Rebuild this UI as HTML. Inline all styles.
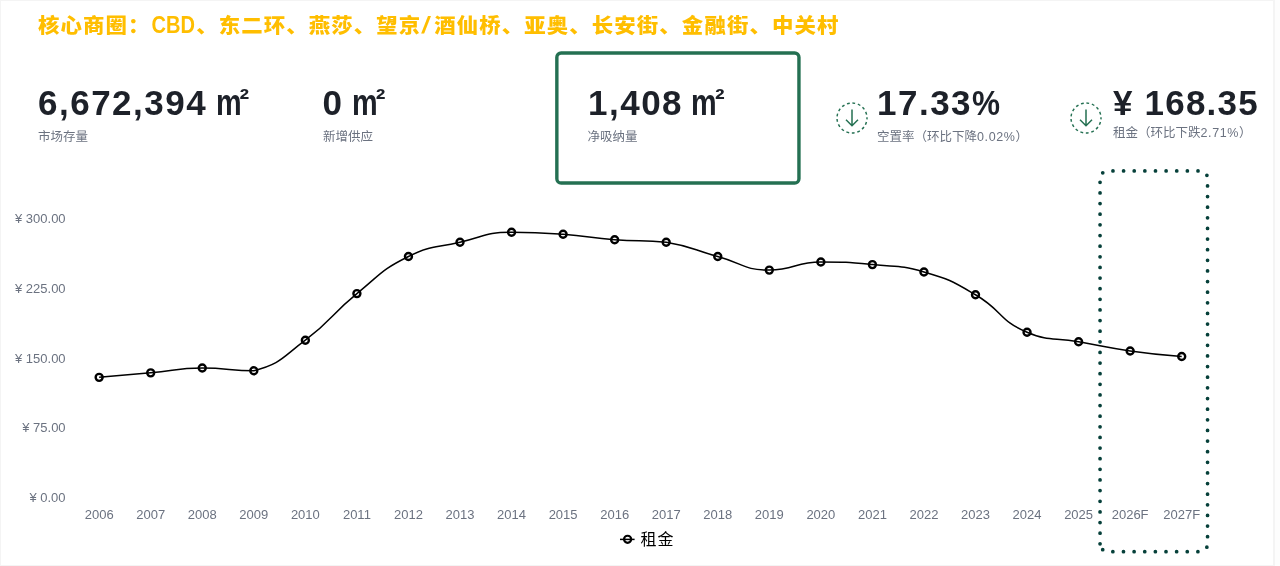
<!DOCTYPE html>
<html lang="zh-CN"><head><meta charset="utf-8"><title>核心商圈</title>
<style>
html,body{margin:0;padding:0}
body{width:1280px;height:566px;position:relative;overflow:hidden;background:#f4f4f4;font-family:"Liberation Sans","Noto Sans CJK SC",sans-serif}
.wrap{position:absolute;left:0;top:0;width:1280px;height:566px;will-change:transform}
.rs{position:absolute;left:1275px;top:0;width:5px;height:566px;background:#fdfdfd}
.card{position:absolute;left:1px;top:1px;width:1272px;height:564px;background:#fff}
.title{position:absolute;left:38px;top:11px;font-size:20px;line-height:29px;font-weight:900;color:#ffbe00;letter-spacing:1.03px;white-space:nowrap;transform:scaleX(1.07);transform-origin:0 0}
.title .lt{display:inline-block;font-weight:700;font-size:23px;letter-spacing:0;transform:scaleX(0.815);transform-origin:0 50%;margin:0 -7.6px 0 0.58px}
.title .sl{display:inline-block;font-weight:700;font-size:23.5px;letter-spacing:4.4px;padding-left:1.2px;transform:skewX(-10deg)}
.v{position:absolute;top:83px;font-size:35px;line-height:40px;font-weight:700;color:#1d2129;letter-spacing:1.5px;white-space:nowrap}
.un{position:absolute;top:82.2px;width:34px;height:40px;font-weight:700;color:#1d2129;font-family:"Liberation Sans",sans-serif}
.um{position:absolute;left:0;top:0;font-size:37.5px;line-height:40px;transform:scaleX(0.77);transform-origin:0 0}
.u2{position:absolute;left:23.6px;top:-3.3px;font-size:29px;line-height:40px}
.l{position:absolute;top:128px;font-size:12.5px;line-height:18px;color:#6b7280;white-space:nowrap}
.l .d{letter-spacing:0.6px}
.box{position:absolute;left:555px;top:51px;width:239px;height:127px;border:3.2px solid #247052;border-radius:6px}
.ic{position:absolute}
.pc{display:inline-block;transform:scaleX(0.9);transform-origin:0 50%;margin-left:-0.6px}
svg text{font-family:"Liberation Sans","Noto Sans CJK SC",sans-serif}
</style></head><body>
<div class="wrap">
<div class="rs"></div>
<div class="card"></div>
<div class="title">核心商圈：<span class="lt">CBD</span>、东二环、燕莎、望京<span class="sl">/</span>酒仙桥、亚奥、长安街、金融街、中关村</div>

<div class="v" style="left:38px">6,672,394</div><span class="un" style="left:215.9px"><span class="um">m</span><span class="u2">²</span></span>
<div class="l" style="left:38px">市场存量</div>

<div class="v" style="left:322.6px">0</div><span class="un" style="left:352.2px"><span class="um">m</span><span class="u2">²</span></span>
<div class="l" style="left:323px">新增供应</div>

<svg class="ic" style="left:0;top:0" width="1280" height="200"><rect x="556.85" y="52.95" width="242.1" height="130" rx="4.3" fill="none" stroke="#247052" stroke-width="3.4"/></svg>
<div class="v" style="left:588px">1,408</div><span class="un" style="left:691.3px"><span class="um">m</span><span class="u2">²</span></span>
<div class="l" style="left:587.5px">净吸纳量</div>

<svg class="ic" style="left:835px;top:101px" width="34" height="34" viewBox="0 0 34 34"><circle cx="17" cy="17" r="15" fill="none" stroke="#247052" stroke-width="1.45" stroke-dasharray="2.8 2.744" stroke-dashoffset="1.4"/><path d="M17 8.5V24.8M11 18.8L17 24.8L23 18.8" fill="none" stroke="#247052" stroke-width="1.5"/></svg>
<div class="v" style="left:877px">17.33<span class="pc">%</span></div>
<div class="l" style="left:877px">空置率（环比下降<span class="d">0.02%</span>）</div>

<svg class="ic" style="left:1069px;top:101px" width="34" height="34" viewBox="0 0 34 34"><circle cx="17" cy="17" r="15" fill="none" stroke="#247052" stroke-width="1.45" stroke-dasharray="2.8 2.744" stroke-dashoffset="1.4"/><path d="M17 8.5V24.8M11 18.8L17 24.8L23 18.8" fill="none" stroke="#247052" stroke-width="1.5"/></svg>
<div class="v" style="left:1113px;letter-spacing:1.2px">¥ 168.35</div>
<div class="l" style="left:1113px;top:124px">租金（环比下跌<span class="d">2.71%</span>）</div>

<svg style="position:absolute;left:0;top:0" width="1280" height="566" viewBox="0 0 1280 566">
<g font-size="13" fill="#6b7280" text-anchor="end">
<text x="65.6" y="223.0">¥ 300.00</text>
<text x="65.6" y="292.8">¥ 225.00</text>
<text x="65.6" y="362.6">¥ 150.00</text>
<text x="65.6" y="432.4">¥ 75.00</text>
<text x="65.6" y="502.2">¥ 0.00</text>
</g>
<g font-size="13" fill="#6b7280" text-anchor="middle">
<text x="99.15" y="519">2006</text>
<text x="150.70" y="519">2007</text>
<text x="202.25" y="519">2008</text>
<text x="253.80" y="519">2009</text>
<text x="305.35" y="519">2010</text>
<text x="356.90" y="519">2011</text>
<text x="408.45" y="519">2012</text>
<text x="460.00" y="519">2013</text>
<text x="511.55" y="519">2014</text>
<text x="563.10" y="519">2015</text>
<text x="614.65" y="519">2016</text>
<text x="666.20" y="519">2017</text>
<text x="717.75" y="519">2018</text>
<text x="769.30" y="519">2019</text>
<text x="820.85" y="519">2020</text>
<text x="872.40" y="519">2021</text>
<text x="923.95" y="519">2022</text>
<text x="975.50" y="519">2023</text>
<text x="1027.05" y="519">2024</text>
<text x="1078.60" y="519">2025</text>
<text x="1130.15" y="519">2026F</text>
<text x="1181.70" y="519">2027F</text>
</g>
<path d="M99.15,377.35 C99.15,377.35 124.93,375.19 150.70,372.85 C176.48,370.51 176.44,368.00 202.25,368.00 C227.99,368.00 229.95,370.80 253.80,370.80 C281.50,363.33 281.48,358.08 305.35,340.20 C333.03,319.48 329.97,315.47 356.90,293.60 C381.52,273.62 380.46,270.43 408.45,256.50 C432.01,244.78 433.99,248.40 460.00,242.30 C485.54,236.30 485.55,232.30 511.55,232.30 C537.10,232.30 537.39,232.43 563.10,234.30 C588.94,236.18 588.82,237.82 614.65,239.80 C640.37,241.77 640.89,239.80 666.20,242.20 C692.44,246.45 691.93,249.51 717.75,256.50 C743.48,263.46 743.25,270.10 769.30,270.10 C794.80,270.10 794.93,262.00 820.85,262.00 C846.48,262.00 846.74,262.11 872.40,264.60 C898.29,267.11 899.19,264.76 923.95,272.00 C950.74,279.83 951.31,280.62 975.50,294.75 C1002.86,310.72 998.77,320.53 1027.05,332.20 C1050.32,341.80 1052.81,337.11 1078.60,341.80 C1104.36,346.48 1104.25,347.24 1130.15,350.95 C1155.80,354.62 1181.70,356.55 1181.70,356.55" fill="none" stroke="#000" stroke-width="1.5"/>
<g fill="none" stroke="#000" stroke-width="2.4">
<circle cx="99.15" cy="377.35" r="3.5"/>
<circle cx="150.70" cy="372.85" r="3.5"/>
<circle cx="202.25" cy="368.00" r="3.5"/>
<circle cx="253.80" cy="370.80" r="3.5"/>
<circle cx="305.35" cy="340.20" r="3.5"/>
<circle cx="356.90" cy="293.60" r="3.5"/>
<circle cx="408.45" cy="256.50" r="3.5"/>
<circle cx="460.00" cy="242.30" r="3.5"/>
<circle cx="511.55" cy="232.30" r="3.5"/>
<circle cx="563.10" cy="234.30" r="3.5"/>
<circle cx="614.65" cy="239.80" r="3.5"/>
<circle cx="666.20" cy="242.20" r="3.5"/>
<circle cx="717.75" cy="256.50" r="3.5"/>
<circle cx="769.30" cy="270.10" r="3.5"/>
<circle cx="820.85" cy="262.00" r="3.5"/>
<circle cx="872.40" cy="264.60" r="3.5"/>
<circle cx="923.95" cy="272.00" r="3.5"/>
<circle cx="975.50" cy="294.75" r="3.5"/>
<circle cx="1027.05" cy="332.20" r="3.5"/>
<circle cx="1078.60" cy="341.80" r="3.5"/>
<circle cx="1130.15" cy="350.95" r="3.5"/>
<circle cx="1181.70" cy="356.55" r="3.5"/>
</g>
<g>
<line x1="620" y1="539.4" x2="634.6" y2="539.4" stroke="#000" stroke-width="1.5"/>
<circle cx="627.6" cy="539.3" r="3.55" fill="none" stroke="#000" stroke-width="2.2"/>
<text x="640.5" y="544.6" font-size="16" fill="#000" letter-spacing="1.1">租金</text>
</g>
<g fill="none" stroke="#06403a" stroke-width="3.75" stroke-linecap="round">
<path d="M1112.96,170.9H1198.2M1112.85,551.7H1198.1M1100.05,182.35V544.2M1207.55,185.9V536.8" stroke-dasharray="0 10.63"/>
<path d="M1102.75,172.8h0M1206.9,175.35h0M1206.85,547.2h0M1102.7,549.7h0"/>
</g>
</svg>
</div>
</body></html>
